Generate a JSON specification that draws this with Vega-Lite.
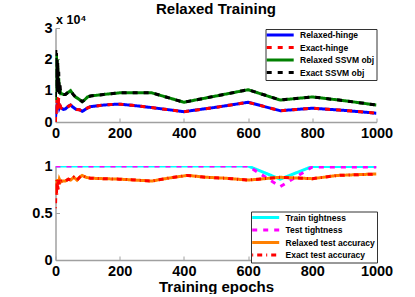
{
  "$schema": "https://vega.github.io/schema/vega-lite/v6.json",
  "padding": {"left": 31.5, "top": 2, "right": 0, "bottom": 0},
  "spacing": 18,
  "config": {
    "font": "Liberation Sans",
    "view": {"stroke": null},
    "axis": {"grid": false, "domainColor": "#a0a0a0", "domainWidth": 1.5, "tickColor": "#a0a0a0", "tickSize": -4, "tickWidth": 1,
      "labelFont": "Liberation Sans", "labelFontWeight": "bold", "labelFontSize": 14.5, "labelColor": "black", "labelPadding": 7.5,
      "titleFont": "Liberation Sans", "titleFontSize": 15, "titleFontWeight": "bold", "titleColor": "black"},
    "axisX": {"labelFlush": false, "labelPadding": 8.5, "titlePadding": 1, "format": "d"},
    "legend": {"title": null, "fillColor": "white", "strokeColor": "#333", "padding": 1.5, "cornerRadius": 0,
      "labelFont": "Liberation Sans", "labelFontWeight": "bold", "labelFontSize": 8.5, "labelColor": "black",
      "symbolType": "M-1.6,0H7.4", "symbolSize": 36, "symbolStrokeWidth": 3, "labelOffset": 24, "rowPadding": -0.5}
  },
  "datasets": {
    "top": [
      {"epoch":0,"value":1500,"series":"Relaxed-hinge"},{"epoch":1,"value":2500,"series":"Relaxed-hinge"},{"epoch":2,"value":3500,"series":"Relaxed-hinge"},{"epoch":3,"value":4500,"series":"Relaxed-hinge"},{"epoch":4,"value":5000,"series":"Relaxed-hinge"},{"epoch":5,"value":5500,"series":"Relaxed-hinge"},{"epoch":6,"value":4800,"series":"Relaxed-hinge"},{"epoch":7,"value":6000,"series":"Relaxed-hinge"},{"epoch":8,"value":5200,"series":"Relaxed-hinge"},{"epoch":10,"value":5600,"series":"Relaxed-hinge"},{"epoch":12,"value":4500,"series":"Relaxed-hinge"},{"epoch":14,"value":5000,"series":"Relaxed-hinge"},{"epoch":16,"value":4600,"series":"Relaxed-hinge"},{"epoch":20,"value":4300,"series":"Relaxed-hinge"},{"epoch":25,"value":4000,"series":"Relaxed-hinge"},{"epoch":31,"value":4200,"series":"Relaxed-hinge"},{"epoch":40,"value":5000,"series":"Relaxed-hinge"},{"epoch":47,"value":5400,"series":"Relaxed-hinge"},{"epoch":55,"value":4700,"series":"Relaxed-hinge"},{"epoch":65,"value":4000,"series":"Relaxed-hinge"},{"epoch":75,"value":3900,"series":"Relaxed-hinge"},{"epoch":83,"value":3400,"series":"Relaxed-hinge"},{"epoch":90,"value":3800,"series":"Relaxed-hinge"},{"epoch":100,"value":4500,"series":"Relaxed-hinge"},{"epoch":109,"value":4900,"series":"Relaxed-hinge"},{"epoch":125,"value":5100,"series":"Relaxed-hinge"},{"epoch":150,"value":5400,"series":"Relaxed-hinge"},{"epoch":175,"value":5600,"series":"Relaxed-hinge"},{"epoch":200,"value":5700,"series":"Relaxed-hinge"},{"epoch":250,"value":5200,"series":"Relaxed-hinge"},{"epoch":300,"value":4600,"series":"Relaxed-hinge"},{"epoch":400,"value":3300,"series":"Relaxed-hinge"},{"epoch":500,"value":4700,"series":"Relaxed-hinge"},{"epoch":600,"value":6300,"series":"Relaxed-hinge"},{"epoch":700,"value":3600,"series":"Relaxed-hinge"},{"epoch":800,"value":4400,"series":"Relaxed-hinge"},{"epoch":900,"value":3700,"series":"Relaxed-hinge"},{"epoch":1000,"value":2800,"series":"Relaxed-hinge"},
      {"epoch":0,"value":0,"series":"Exact-hinge"},{"epoch":1,"value":6000,"series":"Exact-hinge"},{"epoch":2,"value":2000,"series":"Exact-hinge"},{"epoch":3,"value":7500,"series":"Exact-hinge"},{"epoch":4,"value":3000,"series":"Exact-hinge"},{"epoch":5,"value":8000,"series":"Exact-hinge"},{"epoch":6,"value":4000,"series":"Exact-hinge"},{"epoch":7,"value":7000,"series":"Exact-hinge"},{"epoch":8,"value":5000,"series":"Exact-hinge"},{"epoch":10,"value":7800,"series":"Exact-hinge"},{"epoch":12,"value":4500,"series":"Exact-hinge"},{"epoch":14,"value":6000,"series":"Exact-hinge"},{"epoch":16,"value":4600,"series":"Exact-hinge"},{"epoch":20,"value":4300,"series":"Exact-hinge"},{"epoch":25,"value":4000,"series":"Exact-hinge"},{"epoch":31,"value":4200,"series":"Exact-hinge"},{"epoch":40,"value":5000,"series":"Exact-hinge"},{"epoch":47,"value":5400,"series":"Exact-hinge"},{"epoch":55,"value":4700,"series":"Exact-hinge"},{"epoch":65,"value":4000,"series":"Exact-hinge"},{"epoch":75,"value":3900,"series":"Exact-hinge"},{"epoch":83,"value":3400,"series":"Exact-hinge"},{"epoch":90,"value":3800,"series":"Exact-hinge"},{"epoch":100,"value":4500,"series":"Exact-hinge"},{"epoch":109,"value":4900,"series":"Exact-hinge"},{"epoch":125,"value":5100,"series":"Exact-hinge"},{"epoch":150,"value":5400,"series":"Exact-hinge"},{"epoch":175,"value":5600,"series":"Exact-hinge"},{"epoch":200,"value":5700,"series":"Exact-hinge"},{"epoch":250,"value":5200,"series":"Exact-hinge"},{"epoch":300,"value":4600,"series":"Exact-hinge"},{"epoch":400,"value":3300,"series":"Exact-hinge"},{"epoch":500,"value":4700,"series":"Exact-hinge"},{"epoch":600,"value":6300,"series":"Exact-hinge"},{"epoch":700,"value":3600,"series":"Exact-hinge"},{"epoch":800,"value":4400,"series":"Exact-hinge"},{"epoch":900,"value":3700,"series":"Exact-hinge"},{"epoch":1000,"value":2800,"series":"Exact-hinge"},
      {"epoch":0,"value":7000,"series":"Relaxed SSVM obj"},{"epoch":1,"value":21000,"series":"Relaxed SSVM obj"},{"epoch":2,"value":18000,"series":"Relaxed SSVM obj"},{"epoch":3,"value":21500,"series":"Relaxed SSVM obj"},{"epoch":4,"value":17000,"series":"Relaxed SSVM obj"},{"epoch":5,"value":20000,"series":"Relaxed SSVM obj"},{"epoch":6,"value":15000,"series":"Relaxed SSVM obj"},{"epoch":7,"value":18000,"series":"Relaxed SSVM obj"},{"epoch":8,"value":12000,"series":"Relaxed SSVM obj"},{"epoch":10,"value":14000,"series":"Relaxed SSVM obj"},{"epoch":12,"value":9500,"series":"Relaxed SSVM obj"},{"epoch":14,"value":10500,"series":"Relaxed SSVM obj"},{"epoch":16,"value":9000,"series":"Relaxed SSVM obj"},{"epoch":20,"value":9000,"series":"Relaxed SSVM obj"},{"epoch":25,"value":8800,"series":"Relaxed SSVM obj"},{"epoch":31,"value":8800,"series":"Relaxed SSVM obj"},{"epoch":40,"value":9500,"series":"Relaxed SSVM obj"},{"epoch":47,"value":10000,"series":"Relaxed SSVM obj"},{"epoch":55,"value":8800,"series":"Relaxed SSVM obj"},{"epoch":62,"value":8000,"series":"Relaxed SSVM obj"},{"epoch":70,"value":7500,"series":"Relaxed SSVM obj"},{"epoch":83,"value":6500,"series":"Relaxed SSVM obj"},{"epoch":90,"value":7000,"series":"Relaxed SSVM obj"},{"epoch":100,"value":8000,"series":"Relaxed SSVM obj"},{"epoch":109,"value":8300,"series":"Relaxed SSVM obj"},{"epoch":150,"value":8800,"series":"Relaxed SSVM obj"},{"epoch":200,"value":9300,"series":"Relaxed SSVM obj"},{"epoch":250,"value":9300,"series":"Relaxed SSVM obj"},{"epoch":300,"value":9300,"series":"Relaxed SSVM obj"},{"epoch":400,"value":6300,"series":"Relaxed SSVM obj"},{"epoch":500,"value":8300,"series":"Relaxed SSVM obj"},{"epoch":600,"value":10300,"series":"Relaxed SSVM obj"},{"epoch":700,"value":7000,"series":"Relaxed SSVM obj"},{"epoch":800,"value":8000,"series":"Relaxed SSVM obj"},{"epoch":900,"value":6800,"series":"Relaxed SSVM obj"},{"epoch":1000,"value":5400,"series":"Relaxed SSVM obj"},
      {"epoch":0,"value":8000,"series":"Exact SSVM obj"},{"epoch":1,"value":23000,"series":"Exact SSVM obj"},{"epoch":2,"value":12000,"series":"Exact SSVM obj"},{"epoch":3,"value":22000,"series":"Exact SSVM obj"},{"epoch":4,"value":10000,"series":"Exact SSVM obj"},{"epoch":5,"value":20000,"series":"Exact SSVM obj"},{"epoch":6,"value":9000,"series":"Exact SSVM obj"},{"epoch":7,"value":19000,"series":"Exact SSVM obj"},{"epoch":8,"value":9500,"series":"Exact SSVM obj"},{"epoch":10,"value":16000,"series":"Exact SSVM obj"},{"epoch":12,"value":9000,"series":"Exact SSVM obj"},{"epoch":14,"value":12000,"series":"Exact SSVM obj"},{"epoch":16,"value":9200,"series":"Exact SSVM obj"},{"epoch":20,"value":9000,"series":"Exact SSVM obj"},{"epoch":25,"value":8800,"series":"Exact SSVM obj"},{"epoch":31,"value":8800,"series":"Exact SSVM obj"},{"epoch":40,"value":9500,"series":"Exact SSVM obj"},{"epoch":47,"value":10000,"series":"Exact SSVM obj"},{"epoch":55,"value":8800,"series":"Exact SSVM obj"},{"epoch":62,"value":8000,"series":"Exact SSVM obj"},{"epoch":70,"value":7500,"series":"Exact SSVM obj"},{"epoch":83,"value":6500,"series":"Exact SSVM obj"},{"epoch":90,"value":7000,"series":"Exact SSVM obj"},{"epoch":100,"value":8000,"series":"Exact SSVM obj"},{"epoch":109,"value":8300,"series":"Exact SSVM obj"},{"epoch":150,"value":8800,"series":"Exact SSVM obj"},{"epoch":200,"value":9300,"series":"Exact SSVM obj"},{"epoch":250,"value":9300,"series":"Exact SSVM obj"},{"epoch":300,"value":9300,"series":"Exact SSVM obj"},{"epoch":400,"value":6300,"series":"Exact SSVM obj"},{"epoch":500,"value":8300,"series":"Exact SSVM obj"},{"epoch":600,"value":10300,"series":"Exact SSVM obj"},{"epoch":700,"value":7000,"series":"Exact SSVM obj"},{"epoch":800,"value":8000,"series":"Exact SSVM obj"},{"epoch":900,"value":6800,"series":"Exact SSVM obj"},{"epoch":1000,"value":5400,"series":"Exact SSVM obj"}
    ],
    "bottom": [
      {"epoch":0,"value":1,"series":"Train tightness"},{"epoch":100,"value":1,"series":"Train tightness"},{"epoch":200,"value":1,"series":"Train tightness"},{"epoch":300,"value":1,"series":"Train tightness"},{"epoch":400,"value":1,"series":"Train tightness"},{"epoch":500,"value":1,"series":"Train tightness"},{"epoch":600,"value":1,"series":"Train tightness"},{"epoch":700,"value":0.86,"series":"Train tightness"},{"epoch":800,"value":0.995,"series":"Train tightness"},{"epoch":900,"value":0.995,"series":"Train tightness"},{"epoch":1000,"value":0.995,"series":"Train tightness"},
      {"epoch":0,"value":1,"series":"Test tightness"},{"epoch":100,"value":1,"series":"Test tightness"},{"epoch":200,"value":1,"series":"Test tightness"},{"epoch":300,"value":1,"series":"Test tightness"},{"epoch":400,"value":1,"series":"Test tightness"},{"epoch":500,"value":1,"series":"Test tightness"},{"epoch":600,"value":1,"series":"Test tightness"},{"epoch":700,"value":0.78,"series":"Test tightness"},{"epoch":800,"value":0.99,"series":"Test tightness"},{"epoch":900,"value":0.99,"series":"Test tightness"},{"epoch":1000,"value":0.99,"series":"Test tightness"},
      {"epoch":0,"value":0.72,"series":"Relaxed test accuracy"},{"epoch":1,"value":0.84,"series":"Relaxed test accuracy"},{"epoch":2,"value":0.7,"series":"Relaxed test accuracy"},{"epoch":3,"value":0.85,"series":"Relaxed test accuracy"},{"epoch":4,"value":0.75,"series":"Relaxed test accuracy"},{"epoch":5,"value":0.86,"series":"Relaxed test accuracy"},{"epoch":6,"value":0.8,"series":"Relaxed test accuracy"},{"epoch":8,"value":0.85,"series":"Relaxed test accuracy"},{"epoch":10,"value":0.82,"series":"Relaxed test accuracy"},{"epoch":12,"value":0.86,"series":"Relaxed test accuracy"},{"epoch":16,"value":0.83,"series":"Relaxed test accuracy"},{"epoch":20,"value":0.84,"series":"Relaxed test accuracy"},{"epoch":31,"value":0.84,"series":"Relaxed test accuracy"},{"epoch":40,"value":0.86,"series":"Relaxed test accuracy"},{"epoch":47,"value":0.85,"series":"Relaxed test accuracy"},{"epoch":57,"value":0.88,"series":"Relaxed test accuracy"},{"epoch":67,"value":0.85,"series":"Relaxed test accuracy"},{"epoch":75,"value":0.88,"series":"Relaxed test accuracy"},{"epoch":83,"value":0.9,"series":"Relaxed test accuracy"},{"epoch":95,"value":0.88,"series":"Relaxed test accuracy"},{"epoch":109,"value":0.87,"series":"Relaxed test accuracy"},{"epoch":150,"value":0.865,"series":"Relaxed test accuracy"},{"epoch":200,"value":0.86,"series":"Relaxed test accuracy"},{"epoch":300,"value":0.84,"series":"Relaxed test accuracy"},{"epoch":350,"value":0.87,"series":"Relaxed test accuracy"},{"epoch":411,"value":0.9,"series":"Relaxed test accuracy"},{"epoch":470,"value":0.88,"series":"Relaxed test accuracy"},{"epoch":530,"value":0.87,"series":"Relaxed test accuracy"},{"epoch":600,"value":0.85,"series":"Relaxed test accuracy"},{"epoch":700,"value":0.88,"series":"Relaxed test accuracy"},{"epoch":800,"value":0.865,"series":"Relaxed test accuracy"},{"epoch":880,"value":0.9,"series":"Relaxed test accuracy"},{"epoch":1000,"value":0.915,"series":"Relaxed test accuracy"},
      {"epoch":0,"value":0.55,"series":"Exact test accuracy"},{"epoch":1,"value":0.72,"series":"Exact test accuracy"},{"epoch":2,"value":0.85,"series":"Exact test accuracy"},{"epoch":3,"value":0.68,"series":"Exact test accuracy"},{"epoch":4,"value":0.83,"series":"Exact test accuracy"},{"epoch":5,"value":0.7,"series":"Exact test accuracy"},{"epoch":6,"value":0.84,"series":"Exact test accuracy"},{"epoch":8,"value":0.75,"series":"Exact test accuracy"},{"epoch":10,"value":0.86,"series":"Exact test accuracy"},{"epoch":12,"value":0.8,"series":"Exact test accuracy"},{"epoch":16,"value":0.83,"series":"Exact test accuracy"},{"epoch":20,"value":0.84,"series":"Exact test accuracy"},{"epoch":31,"value":0.84,"series":"Exact test accuracy"},{"epoch":40,"value":0.86,"series":"Exact test accuracy"},{"epoch":47,"value":0.85,"series":"Exact test accuracy"},{"epoch":57,"value":0.88,"series":"Exact test accuracy"},{"epoch":67,"value":0.85,"series":"Exact test accuracy"},{"epoch":75,"value":0.88,"series":"Exact test accuracy"},{"epoch":83,"value":0.9,"series":"Exact test accuracy"},{"epoch":95,"value":0.88,"series":"Exact test accuracy"},{"epoch":109,"value":0.87,"series":"Exact test accuracy"},{"epoch":150,"value":0.865,"series":"Exact test accuracy"},{"epoch":200,"value":0.86,"series":"Exact test accuracy"},{"epoch":300,"value":0.84,"series":"Exact test accuracy"},{"epoch":350,"value":0.87,"series":"Exact test accuracy"},{"epoch":411,"value":0.9,"series":"Exact test accuracy"},{"epoch":470,"value":0.88,"series":"Exact test accuracy"},{"epoch":530,"value":0.87,"series":"Exact test accuracy"},{"epoch":600,"value":0.85,"series":"Exact test accuracy"},{"epoch":700,"value":0.88,"series":"Exact test accuracy"},{"epoch":800,"value":0.865,"series":"Exact test accuracy"},{"epoch":880,"value":0.9,"series":"Exact test accuracy"},{"epoch":1000,"value":0.915,"series":"Exact test accuracy"}
    ]
  },
  "resolve": {"scale": {"color": "independent", "strokeDash": "independent"}},
  "vconcat": [
    {
      "width": 321, "height": 94,
      "title": {"text": "Relaxed Training", "fontSize": 15, "fontWeight": "bold", "font": "Liberation Sans", "anchor": "middle", "offset": -4, "color": "black"},
      "data": {"name": "top"},
      "mark": {"type": "line", "strokeWidth": 3, "clip": true},
      "encoding": {
        "x": {"field": "epoch", "type": "quantitative", "scale": {"domain": [0, 1000], "nice": false},
          "axis": {"values": [0, 200, 400, 600, 800, 1000], "title": null}},
        "y": {"field": "value", "type": "quantitative", "scale": {"domain": [0, 30000], "nice": false},
          "axis": {"values": [0, 10000, 20000, 30000], "labelExpr": "datum.value / 10000", "title": "x 10⁴",
            "titleAngle": 0, "titleX": 0, "titleY": -5, "titleAlign": "left", "titleBaseline": "alphabetic", "titleFontSize": 12.5}},
        "color": {"field": "series", "type": "nominal",
          "scale": {"domain": ["Relaxed-hinge", "Exact-hinge", "Relaxed SSVM obj", "Exact SSVM obj"], "range": ["#0000ff", "#ff0000", "#008000", "#000000"]},
          "legend": {"orient": "none", "legendX": 210, "legendY": 1}},
        "strokeDash": {"field": "series", "type": "nominal",
          "scale": {"domain": ["Relaxed-hinge", "Exact-hinge", "Relaxed SSVM obj", "Exact SSVM obj"], "range": [[1, 0], [5, 6], [1, 0], [5, 6]]},
          "legend": {"orient": "none", "legendX": 210, "legendY": 1}}
      }
    },
    {
      "width": 321, "height": 94,
      "data": {"name": "bottom"},
      "mark": {"type": "line", "strokeWidth": 3, "clip": true},
      "encoding": {
        "x": {"field": "epoch", "type": "quantitative", "scale": {"domain": [0, 1000], "nice": false},
          "axis": {"values": [0, 200, 400, 600, 800, 1000], "title": "Training epochs"}},
        "y": {"field": "value", "type": "quantitative", "scale": {"domain": [0, 1], "nice": false},
          "axis": {"values": [0, 0.5, 1], "labelExpr": "datum.value + ''", "title": null}},
        "color": {"field": "series", "type": "nominal",
          "scale": {"domain": ["Train tightness", "Test tightness", "Relaxed test accuracy", "Exact test accuracy"], "range": ["#00ffff", "#ff00ff", "#ff8000", "#ff0000"]},
          "legend": {"orient": "none", "legendX": 195.5, "legendY": 45.5}},
        "strokeDash": {"field": "series", "type": "nominal",
          "scale": {"domain": ["Train tightness", "Test tightness", "Relaxed test accuracy", "Exact test accuracy"], "range": [[1, 0], [5, 6], [1, 0], [1, 4, 5, 4]]},
          "legend": {"orient": "none", "legendX": 195.5, "legendY": 45.5}}
      }
    }
  ]
}
